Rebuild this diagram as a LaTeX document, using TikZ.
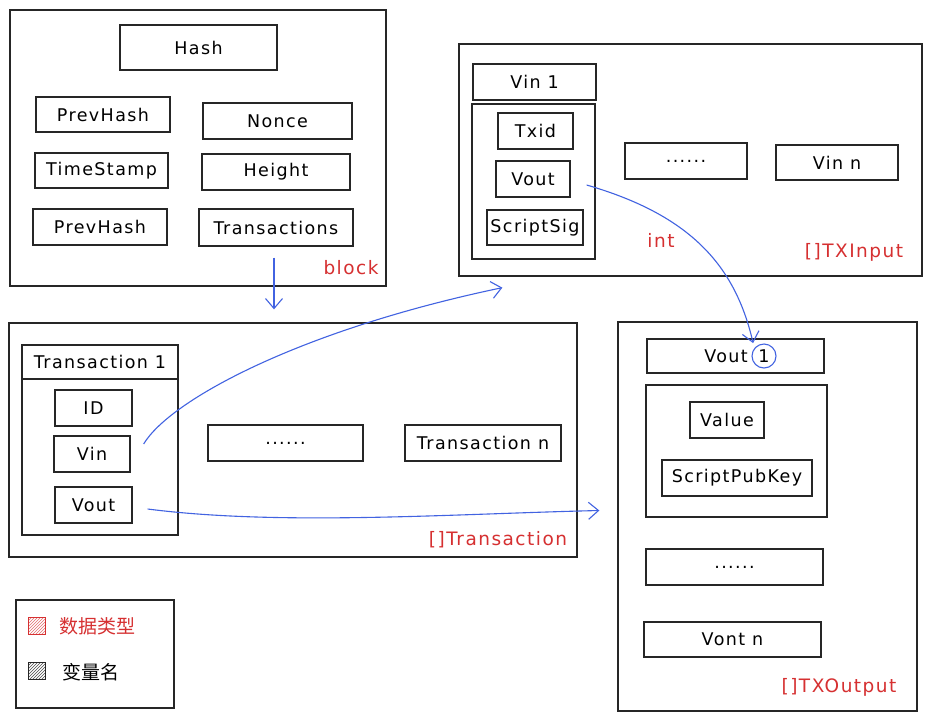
\documentclass[tikz,border=0pt]{standalone}
\usepackage{fontspec}
\setmainfont{DejaVu Sans}[LetterSpace=8]
\newfontfamily\cjk{Noto Sans CJK SC}
\usetikzlibrary{arrows.meta,patterns,calc}
\definecolor{xred}{RGB}{214,48,49}
\definecolor{xblue}{RGB}{66,99,225}
\begin{document}
\begin{tikzpicture}[x=1pt,y=-1pt,
  box/.style={draw=black!85,line width=1.3pt,inner sep=0pt,font=\fontsize{17.5}{19}\selectfont},
  frame/.style={draw=black!85,line width=1.3pt,inner sep=0pt},
  redlab/.style={text=xred,font=\fontsize{18.5}{20}\selectfont,inner sep=0pt},
  conn/.style={draw=xblue,line width=1.1pt,-{Straight Barb[length=10pt,width=17pt]}},
  leg/.style={font=\cjk\fontsize{19}{21}\selectfont,inner sep=0pt}]
\useasboundingbox (0,0) rectangle (931,721);
\fill[white] (0,0) rectangle (931,721);

% ---------- block ----------
\node[frame,minimum width=376,minimum height=276] (block) at (198,148) {};
\node[box,minimum width=157,minimum height=45] (hash) at (198.5,47.5) {Hash};
\node[box,minimum width=134,minimum height=35] (prev1) at (103,114.5) {PrevHash};
\node[box,minimum width=149,minimum height=36] (nonce) at (277.5,121) {Nonce};
\node[box,minimum width=133,minimum height=35] (time) at (101.5,170.5) {TimeStamp};
\node[box,minimum width=148,minimum height=36] (height) at (276,172) {Height};
\node[box,minimum width=134,minimum height=36] (prev2) at (100,227) {PrevHash};
\node[box,minimum width=154,minimum height=37] (trans) at (276,227.5) {Transactions};
\node[redlab] (blocklab) at (351,268) {block};

% ---------- TXInput ----------
\node[frame,minimum width=463,minimum height=232] (txin) at (690.5,160) {};
\node[box,minimum width=123,minimum height=36] (vin1) at (534.5,82) {Vin 1};
\node[frame,minimum width=123,minimum height=155] (vinbody) at (533.5,181.5) {};
\node[box,minimum width=75,minimum height=36] (txid) at (535.5,131) {Txid};
\node[box,minimum width=74,minimum height=36] (invout) at (533,179) {Vout};
\node[box,minimum width=96,minimum height=35] (sig) at (535,227.5) {ScriptSig};
\node[box,minimum width=122,minimum height=36] (indots) at (686,161) {......};
\node[box,minimum width=122,minimum height=35] (vinn) at (837,162.5) {Vin n};
\node[redlab] (intlab) at (661,240) {int};
\node[redlab] (txinlab) at (854,252) {[]TXInput};

% ---------- Transaction ----------
\node[frame,minimum width=568,minimum height=234] (txs) at (293,440) {};
\node[box,minimum width=156,minimum height=34] (tx1) at (100,362) {Transaction 1};
\node[frame,minimum width=156,minimum height=156] (tx1body) at (100,457) {};
\node[box,minimum width=77,minimum height=36] (tid) at (93.5,408) {ID};
\node[box,minimum width=76,minimum height=36] (tvin) at (92,454) {Vin};
\node[box,minimum width=77,minimum height=36] (tvout) at (93.5,505) {Vout};
\node[box,minimum width=155,minimum height=36] (tdots) at (285.5,443) {......};
\node[box,minimum width=156,minimum height=36] (txn) at (483,443) {Transaction n};
\node[redlab] (txslab) at (498,540) {[]Transaction};

% ---------- TXOutput ----------
\node[frame,minimum width=299,minimum height=389] (txout) at (767.5,516.5) {};
\node[box,minimum width=177,minimum height=34] (vout1) at (735.5,356) {};
\node[inner sep=0pt,font=\fontsize{17.5}{19}\selectfont] (vout1t) at (726,356) {Vout};
\node[circle,draw=xblue,line width=1.1pt,minimum size=24pt,inner sep=0pt,font=\fontsize{17.5}{19}\selectfont] (one) at (764,356) {1};
\node[frame,minimum width=181,minimum height=132] (voutbody) at (736.5,451) {};
\node[box,minimum width=74,minimum height=36] (value) at (727,420) {Value};
\node[box,minimum width=150,minimum height=36] (spk) at (737,478) {ScriptPubKey};
\node[box,minimum width=177,minimum height=36] (outdots) at (734.5,567) {......};
\node[box,minimum width=177,minimum height=35] (voutn) at (732.5,639.5) {Vont n};
\node[redlab] (txoutlab) at (839,687) {[]TXOutput};

% ---------- legend ----------
\node[frame,minimum width=158,minimum height=108] (legend) at (95,654) {};
\node[draw=xred,line width=1pt,pattern=north east lines,pattern color=xred!70,minimum size=17pt,inner sep=0pt] (legred) at (37,626) {};
\node[leg,text=xred,anchor=west] (legredt) at (59,626) {数据类型};
\node[draw=black!85,line width=1pt,pattern=north east lines,pattern color=black!70,minimum size=17pt,inner sep=0pt] (legblk) at (37,671) {};
\node[leg,anchor=west] (legblkt) at (62,672) {变量名};

% ---------- connectors ----------
\coordinate (a1s) at ($(trans.south)+(-2,11)$);
\coordinate (a1e) at ($(txs.north)+(-19,-13)$);
\draw[conn] (a1s) -- (a1e);

\coordinate (c1s) at ($(tvin.east)+(13,-10)$);
\coordinate (c1e) at ($(txin.south west)+(44,11)$);
\draw[conn] (c1s) .. controls (170,400) and (300,330) .. (c1e);

\coordinate (c2s) at ($(tvout.east)+(15,4)$);
\coordinate (c2e) at ($(txout.west)+(-18,-6)$);
\draw[conn] (c2s) .. controls (280,526) and (450,514) .. (c2e);

\coordinate (c3s) at ($(invout.east)+(16,6)$);
\draw[conn] (c3s) .. controls (690,215) and (735,265) .. ($(one.north west)+(-2,-4)$);
\end{tikzpicture}
\end{document}
